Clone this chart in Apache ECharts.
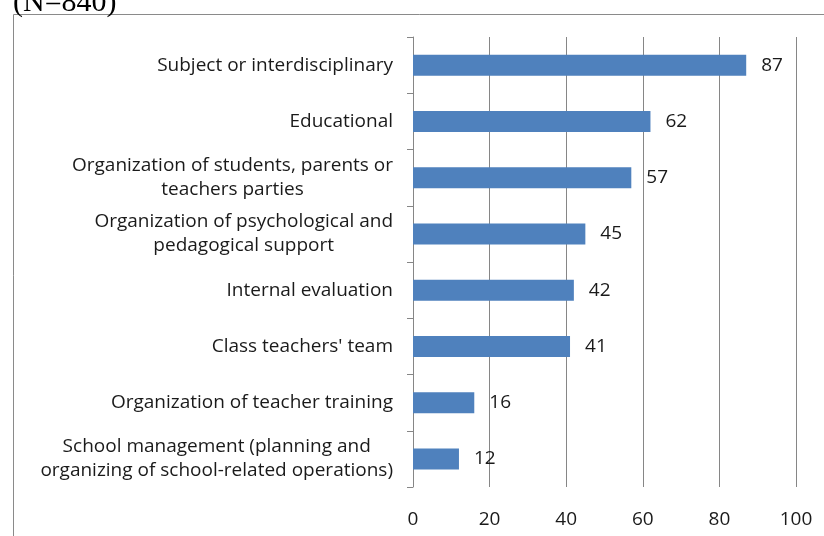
<!DOCTYPE html>
<html>
<head>
<meta charset="utf-8">
<script src="https://cdn.jsdelivr.net/npm/echarts@6/dist/echarts.min.js"></script>
<style>
html,body{margin:0;padding:0;background:#fff;}
#chart{width:824px;height:536px;}
</style>
</head>
<body>
<div id="chart"></div>
<script>
var categories = [
  "Subject or interdisciplinary",
  "Educational",
  "Organization of students, parents or\nteachers parties",
  "Organization of psychological and\npedagogical support",
  "Internal evaluation",
  "Class teachers' team",
  "Organization of teacher training",
  "School management (planning and\norganizing of school-related operations)"
];
var values = [87, 62, 57, 45, 42, 41, 16, 12];
var titleText = "(N=840)";

var FONT = "Open Sans";
var FS = 19;
var chart = echarts.init(document.getElementById('chart'), null, {renderer: 'canvas'});
chart.setOption({
  animation: false,
  backgroundColor: '#fff',
  graphic: [
    {type: 'text', left: 13, top: -12, style: {text: titleText, font: '30px "Liberation Serif"', fill: '#000'}},
    {type: 'rect', shape: {x: 13.5, y: 14.5, width: 830, height: 540}, style: {fill: 'none', stroke: '#8a8a8a', lineWidth: 1}, z: -1}
  ],
  grid: {left: 413, right: 28, top: 37, bottom: 49},
  xAxis: {
    type: 'value', min: 0, max: 100, interval: 20,
    axisLine: {show: false}, axisTick: {show: false},
    splitLine: {show: true, lineStyle: {color: '#868686', width: 1}},
    axisLabel: {margin: 23, fontFamily: FONT, fontSize: FS, color: '#1a1a1a'}
  },
  yAxis: {
    type: 'category', data: categories, inverse: true,
    axisLine: {show: true, lineStyle: {color: '#868686', width: 1}},
    axisTick: {show: true, length: 6, lineStyle: {color: '#868686'}},
    axisLabel: {
      margin: 20, color: '#1a1a1a',
      formatter: function (v) { return v.split('\n').map(function (l) { return '{c|' + l + '}'; }).join('\n'); },
      rich: {c: {align: 'center', fontFamily: FONT, fontSize: FS, lineHeight: 24, color: '#1a1a1a'}}
    }
  },
  series: [{
    type: 'bar', data: values, barWidth: 21,
    itemStyle: {color: '#4F81BD'},
    label: {show: true, position: 'right', distance: 15, fontFamily: FONT, fontSize: FS, color: '#1a1a1a'}
  }]
});
</script>
</body>
</html>
